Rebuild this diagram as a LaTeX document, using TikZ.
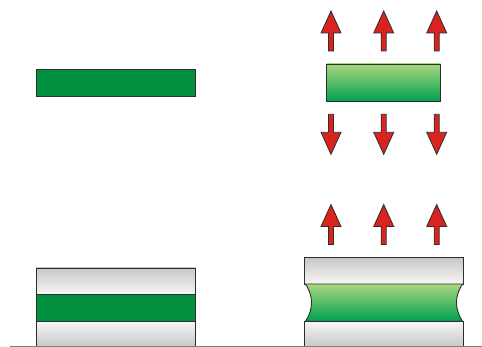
\documentclass[tikz,border=0pt]{standalone}
\usetikzlibrary{calc}
\definecolor{solidgreen}{HTML}{00903F}
\definecolor{lightgreen}{HTML}{A8D87E}
\definecolor{midgreen}{HTML}{3DB563}
\definecolor{deepgreen}{HTML}{00A04E}
\definecolor{arrowred}{HTML}{D8231F}
\definecolor{outline}{HTML}{2E2E2E}
\tikzset{
  edge/.style={draw=outline, line width=0.9pt},
  flatbar/.style={edge, fill=solidgreen},
  gradbar/.style={edge, top color=lightgreen, middle color=midgreen, bottom color=deepgreen},
  platetop/.style={edge, top color=black!22, bottom color=black!3},
  platebot/.style={edge, top color=black!3, bottom color=black!22},
  arrowshape/.style={draw=outline, line width=0.8pt, fill=arrowred, line join=miter},
  uparrow/.pic={\path[arrowshape] (0,0) -- (10,22) -- (2.5,22) -- (2.5,40) -- (-2.5,40) -- (-2.5,22) -- (-10,22) -- cycle;},
  downarrow/.pic={\path[arrowshape] (0,0) -- (10,-22) -- (2.5,-22) -- (2.5,-40) -- (-2.5,-40) -- (-2.5,-22) -- (-10,-22) -- cycle;}
}
\begin{document}
\begin{tikzpicture}[x=1pt,y=-1pt]
\useasboundingbox (0,0) rectangle (482,347);
% top left film
\path[flatbar] (36,69.5) rectangle (195.5,96);
% top right film
\shade[gradbar] (326.7,64) rectangle (440.7,101.3);
% arrows above and below free film
\foreach \cx in {331,383.7,436.7} {
  \pic at (\cx,11) {uparrow};
  \pic at (\cx,154.3) {downarrow};
  \pic at (\cx,204.5) {uparrow};
}
% bottom left stack
\shade[platetop] (36,268) rectangle (195.5,294.7);
\path[flatbar] (36,294.7) rectangle (195.5,321.3);
\shade[platebot] (36,321.3) rectangle (195.5,346.5);
% bottom right stack
\shade[platetop] (304,257.3) rectangle (463.3,284);
\shade[gradbar] (305.5,284) -- (462.5,284)
  .. controls (454.5,296) and (454.5,309) .. (462.5,321.3)
  -- (305.5,321.3)
  .. controls (313.5,309) and (313.5,296) .. (305.5,284) -- cycle;
\shade[platebot] (304,321.3) rectangle (463.3,346.5);
% ground line
\draw[black!50, line width=1pt] (10,346.6) -- (482,346.6);
\end{tikzpicture}
\end{document}
